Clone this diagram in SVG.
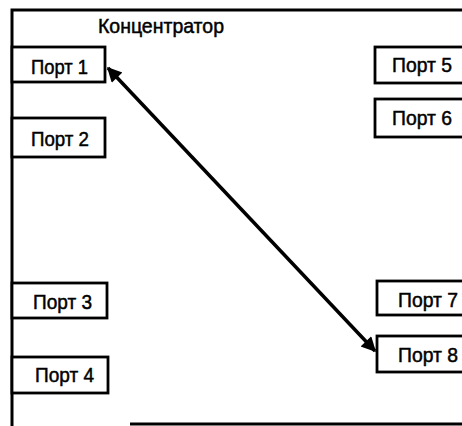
<svg xmlns="http://www.w3.org/2000/svg" width="462" height="426" viewBox="0 0 462 426">
  <style>
    .frame { fill: none; stroke: #000; stroke-width: 3; }
    .port rect { fill: #fff; stroke: #000; stroke-width: 2.8; }
    .port text, .title { font-family: "Liberation Sans", Arial, sans-serif; font-size: 21px; fill: #000; stroke: #000; stroke-width: 0.5; }
    .link { stroke: #000; stroke-width: 3.5; fill: none; }
  </style>
  <defs>
    <marker id="head" viewBox="0 0 10 10" refX="9" refY="5" markerWidth="5.2" markerHeight="4.2" orient="auto-start-reverse" markerUnits="strokeWidth">
      <path d="M0,0 L10,5 L0,10 Z" fill="#000"/>
    </marker>
  </defs>
  <rect width="462" height="426" fill="#fff"/>

  <!-- hub enclosure -->
  <g id="hub">
    <path class="frame" d="M470,10 L12,10 L12,426 M130,424 L470,424"/>
    <text class="title" x="98" y="33" textLength="126" lengthAdjust="spacingAndGlyphs">Концентратор</text>
  </g>

  <!-- left ports -->
  <g id="port1" class="port"><rect x="12" y="47" width="93" height="35"/><text x="31" y="74" textLength="57" lengthAdjust="spacingAndGlyphs">Порт 1</text></g>
  <g id="port2" class="port"><rect x="12" y="118" width="93" height="39"/><text x="31" y="146" textLength="58" lengthAdjust="spacingAndGlyphs">Порт 2</text></g>
  <g id="port3" class="port"><rect x="12" y="283" width="95" height="35"/><text x="33" y="309" textLength="59" lengthAdjust="spacingAndGlyphs">Порт 3</text></g>
  <g id="port4" class="port"><rect x="12" y="357" width="96" height="36"/><text x="35" y="382" textLength="59" lengthAdjust="spacingAndGlyphs">Порт 4</text></g>

  <!-- right ports -->
  <g id="port5" class="port"><rect x="375" y="47" width="100" height="36"/><text x="392" y="72" textLength="60" lengthAdjust="spacingAndGlyphs">Порт 5</text></g>
  <g id="port6" class="port"><rect x="375" y="99" width="100" height="38"/><text x="392" y="125" textLength="60" lengthAdjust="spacingAndGlyphs">Порт 6</text></g>
  <g id="port7" class="port"><rect x="377" y="281" width="100" height="34"/><text x="398" y="307" textLength="60" lengthAdjust="spacingAndGlyphs">Порт 7</text></g>
  <g id="port8" class="port"><rect x="377" y="336" width="100" height="36"/><text x="398" y="362" textLength="60" lengthAdjust="spacingAndGlyphs">Порт 8</text></g>

  <!-- connection -->
  <g id="connectors">
    <line class="link" x1="108" y1="68" x2="375" y2="351" marker-start="url(#head)" marker-end="url(#head)"/>
  </g>
</svg>
